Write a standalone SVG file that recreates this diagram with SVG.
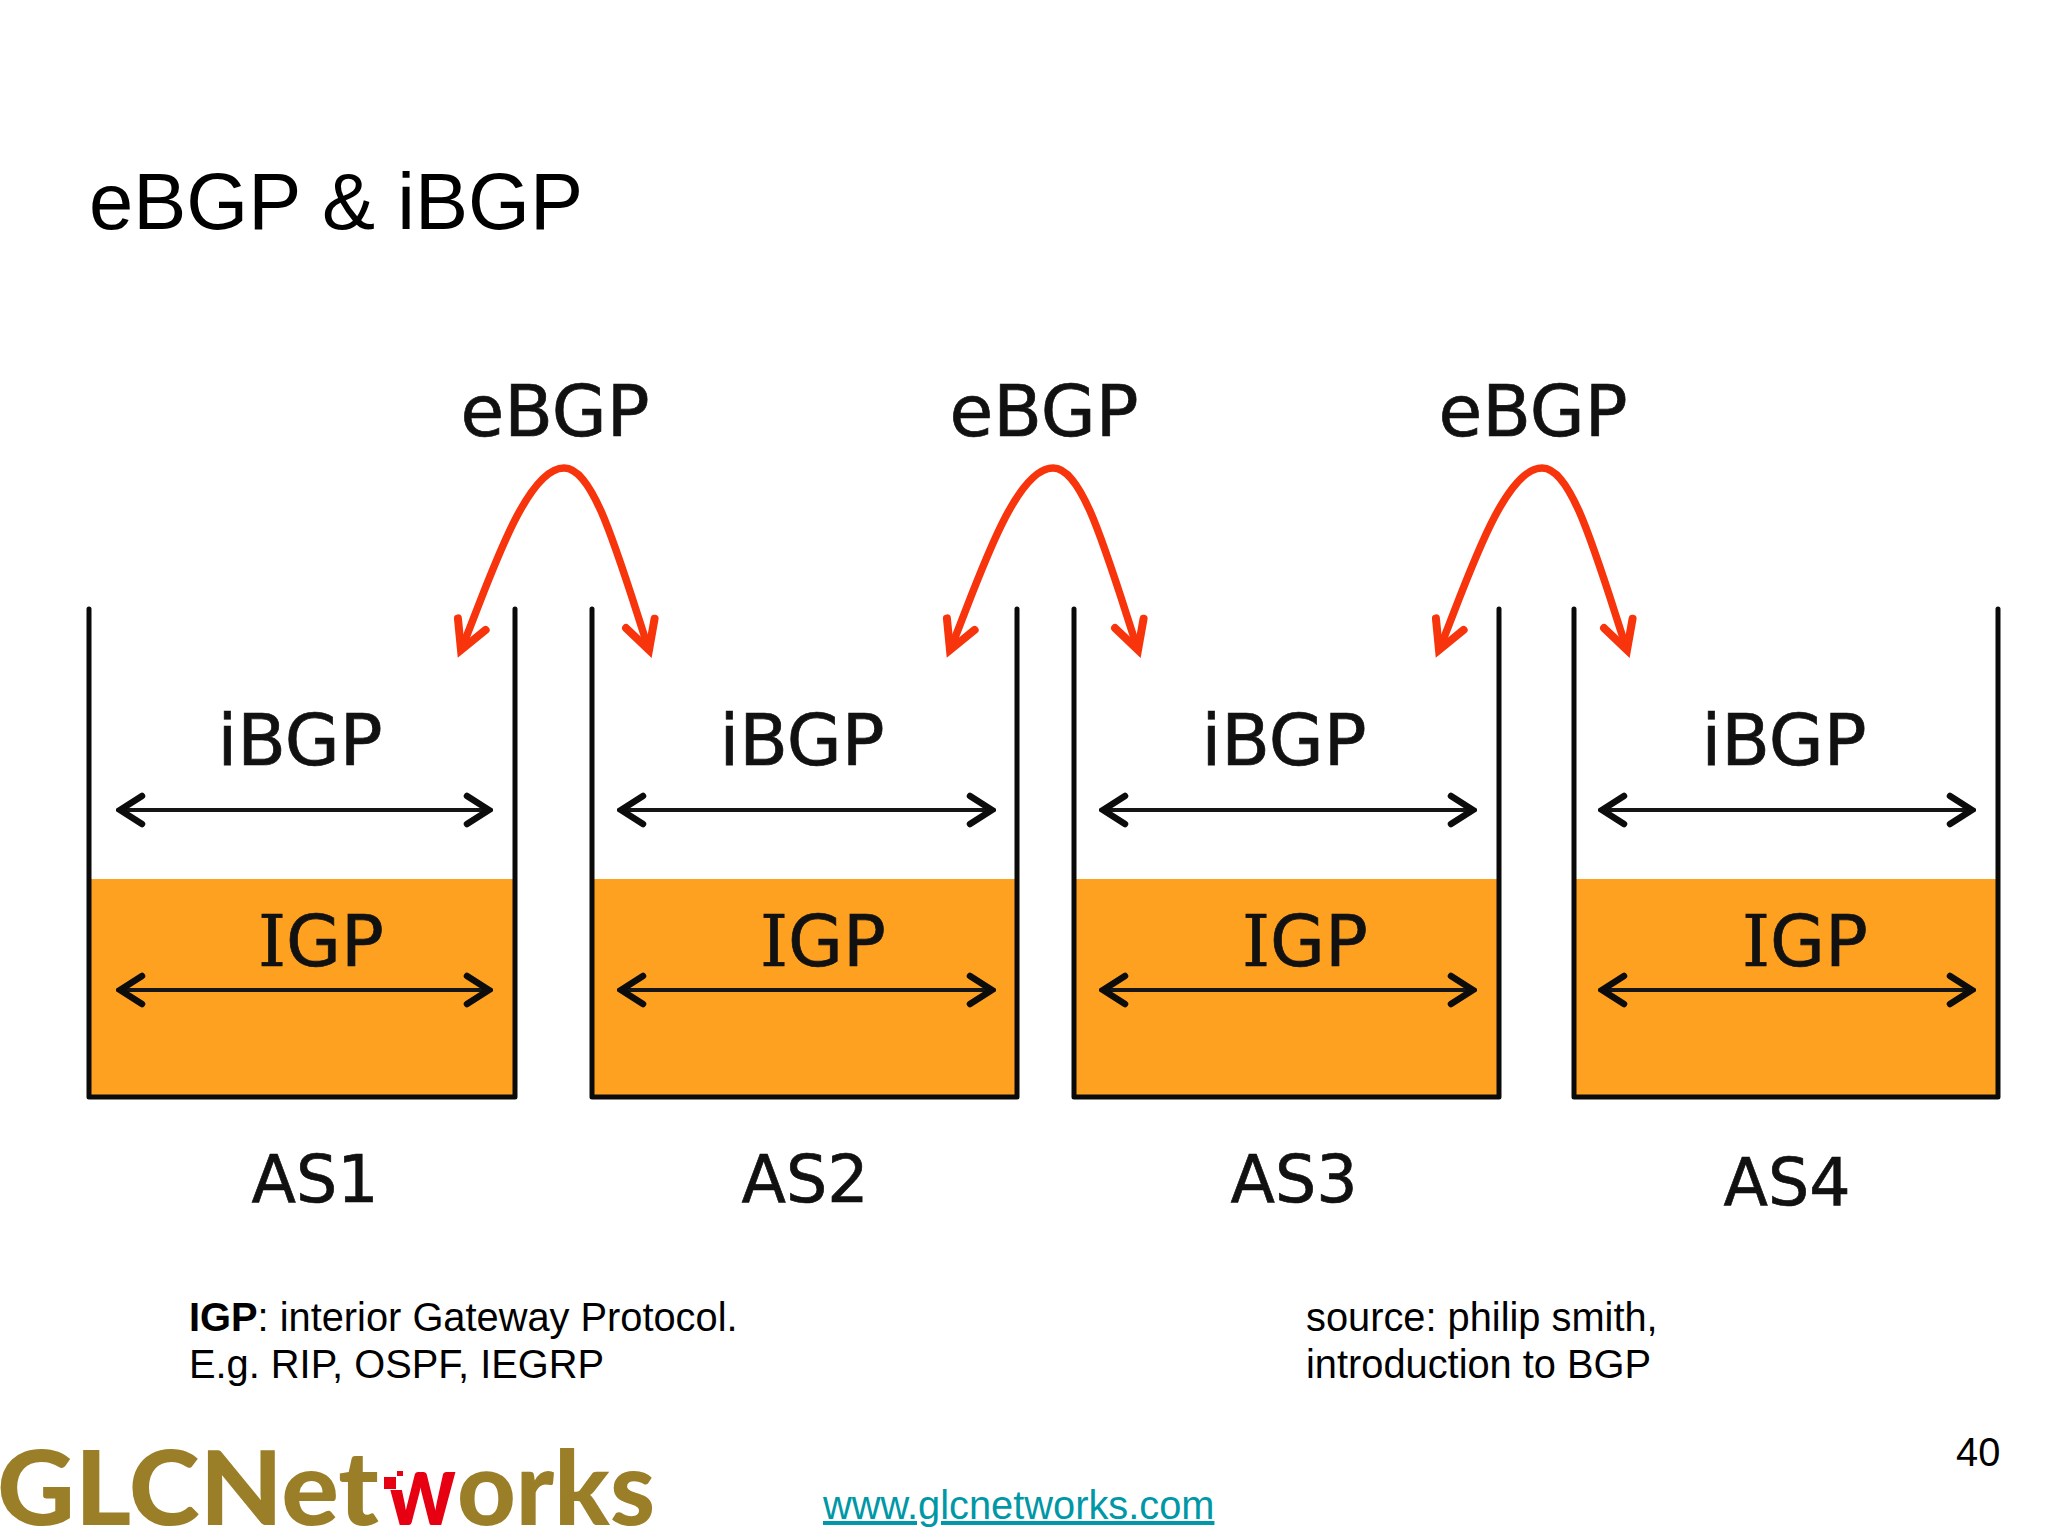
<svg xmlns="http://www.w3.org/2000/svg" width="2048" height="1536" viewBox="0 0 2048 1536">
<defs>
<style>
.big{font-family:"DejaVu Sans",sans-serif;font-size:71px;fill:#111;stroke:#111;stroke-width:.7;text-anchor:middle}
.as{font-size:65px}
.serif{font-family:"DejaVu Serif",serif}
.txt{font-family:"Liberation Sans",Arial,sans-serif;font-size:39.8px;fill:#000}
.wall{fill:none;stroke:#0a0a0a;stroke-width:5;stroke-linejoin:round;stroke-linecap:round}
.fill{fill:#fea020}
.dbl{fill:none;stroke:#151515;stroke-width:4;marker-start:url(#blk);marker-end:url(#blk)}
.red{fill:none;stroke:#f8340c;stroke-width:7.5;stroke-linecap:butt;marker-start:url(#rd);marker-end:url(#rd)}
.logo{font-family:"Lato","Liberation Sans",sans-serif;font-weight:900;font-size:102px;fill:#9a7f28}
</style>
<marker id="blk" markerUnits="userSpaceOnUse" viewBox="-30 -20 34 40" refX="0" refY="0" markerWidth="34" markerHeight="40" orient="auto-start-reverse">
<path d="M-22,-14 L0,0 L-22,14" fill="none" stroke="#0c0c0c" stroke-width="6.5" stroke-linecap="round" stroke-linejoin="miter"/>
</marker>
<marker id="rd" markerUnits="userSpaceOnUse" viewBox="-44 -24 60 48" refX="0" refY="0" markerWidth="60" markerHeight="48" orient="auto-start-reverse">
<path d="M-28,-15 L0,0 L-28,15" fill="none" stroke="#f8340c" stroke-width="8" stroke-linecap="round" stroke-linejoin="miter"/>
</marker>
</defs>
<rect width="2048" height="1536" fill="#fff"/>
<text id="title" x="89" y="229" font-family="Liberation Sans, Arial, sans-serif" font-size="79.6" fill="#000">eBGP &amp; iBGP</text>

<g id="as1"><rect class="fill" x="89" y="879" width="426" height="218"/><path class="wall" d="M89,609V1097H515V609"/><text class="big" x="300" y="765">iBGP</text><text class="big" x="321" y="966"><tspan class="serif">I</tspan>GP</text><text class="big as" x="315" y="1202">AS1</text></g>
<g id="as2"><rect class="fill" x="592" y="879" width="425" height="218"/><path class="wall" d="M592,609V1097H1017V609"/><text class="big" x="802" y="765">iBGP</text><text class="big" x="823" y="966"><tspan class="serif">I</tspan>GP</text><text class="big as" x="805" y="1202">AS2</text></g>
<g id="as3"><rect class="fill" x="1074" y="879" width="425" height="218"/><path class="wall" d="M1074,609V1097H1499V609"/><text class="big" x="1284" y="765">iBGP</text><text class="big" x="1305" y="966"><tspan class="serif">I</tspan>GP</text><text class="big as" x="1294" y="1202">AS3</text></g>
<g id="as4"><rect class="fill" x="1574" y="879" width="424" height="218"/><path class="wall" d="M1574,609V1097H1998V609"/><text class="big" x="1784" y="765">iBGP</text><text class="big" x="1805" y="966"><tspan class="serif">I</tspan>GP</text><text class="big as" x="1787" y="1205">AS4</text></g>

<g id="ebgp1"><text class="big" x="555" y="436">eBGP</text></g>
<g id="ebgp2"><text class="big" x="1044" y="436">eBGP</text></g>
<g id="ebgp3"><text class="big" x="1533" y="436">eBGP</text></g>

<g id="connectors">
<path class="dbl" d="M120,810H489"/><path class="dbl" d="M621,810H992"/><path class="dbl" d="M1103,810H1473"/><path class="dbl" d="M1602,810H1972"/>
<path class="dbl" d="M120,990H489"/><path class="dbl" d="M621,990H992"/><path class="dbl" d="M1103,990H1473"/><path class="dbl" d="M1602,990H1972"/>
<path class="red" d="M461,650C486,590 524,468 564,468C594,468 617,552 649,650"/>
<path class="red" d="M950,650C975,590 1013,468 1053,468C1083,468 1106,552 1138,650"/>
<path class="red" d="M1439,650C1464,590 1502,468 1542,468C1572,468 1595,552 1627,650"/>
</g>

<g id="notes">
<text class="txt" x="189" y="1331"><tspan font-weight="bold">IGP</tspan>: interior Gateway Protocol.</text>
<text class="txt" x="189" y="1378">E.g. RIP, OSPF, IEGRP</text>
<text class="txt" x="1306" y="1331">source: philip smith,</text>
<text class="txt" x="1306" y="1378">introduction to BGP</text>
<text class="txt" x="1956" y="1466">40</text>
<text class="txt" x="823" y="1519" style="fill:#0097a7;text-decoration:underline">www.glcnetworks.com</text>
</g>

<g id="logo">
<text class="logo" x="-3" y="1525" textLength="382" lengthAdjust="spacingAndGlyphs">GLCNet</text>
<text class="logo" x="385" y="1525" textLength="71" lengthAdjust="spacingAndGlyphs" style="fill:#e60012">w</text>
<text class="logo" x="457" y="1525" textLength="198" lengthAdjust="spacingAndGlyphs">orks</text>
<rect x="380" y="1460" width="24" height="30" fill="#fff"/>
<rect x="384" y="1477" width="12" height="12" fill="#e60012"/>
<rect x="397" y="1471" width="6" height="5" fill="#e60012"/>
</g>
</svg>
